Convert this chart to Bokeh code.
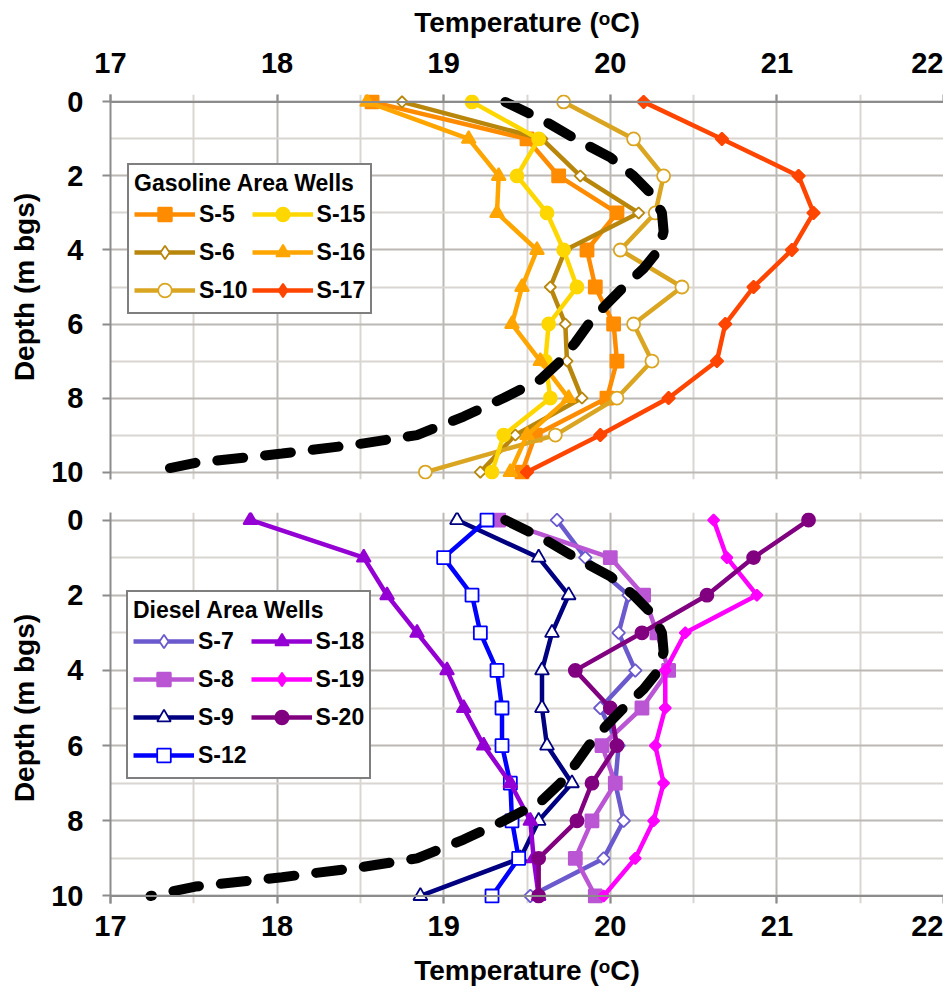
from math import pi
from bokeh.plotting import figure
from bokeh.models import Range1d, FixedTicker, Legend, LegendItem, Span, BoxAnnotation
from bokeh.layouts import column
from bokeh.embed import file_html
from bokeh.resources import INLINE

NAN = float("nan")

# ---------------- data ----------------
DEPTH = [0, 1, 2, 3, 4, 5, 6, 7, 8, 9, 10]

# Gasoline area wells (temperature, deg C)
S5 = [18.57, 19.50, 19.69, 20.04, 19.86, 19.91, 20.02, 20.04, 19.98, 19.55, 19.47]
S6 = [18.75, 19.59, 19.82, 20.17, 19.73, 19.64, 19.73, 19.74, 19.83, 19.43, 19.22]
S10 = [19.72, 20.14, 20.32, 20.27, 20.06, 20.43, 20.14, 20.25, 20.04, 19.67, 18.89]
S15 = [19.17, 19.57, 19.44, 19.62, 19.72, 19.80, 19.63, 19.61, 19.64, 19.36, 19.29]
S16 = [18.54, 19.15, 19.33, 19.32, 19.56, 19.47, 19.41, 19.58, 19.75, 19.50, 19.40]
S17 = [20.20, 20.67, 21.13, 21.22, 21.09, 20.86, 20.69, 20.64, 20.35, 19.94, 19.50]

# Diesel area wells
S7 = [19.68, 19.85, 20.11, 20.05, 20.15, 19.94, 20.05, 20.03, 20.08, 19.96, 19.52]
S8 = [19.33, 20.00, 20.20, 20.28, 20.35, 20.19, 19.95, 20.03, 19.89, 19.79, 19.91]
S9 = [19.08, 19.57, 19.75, 19.65, 19.59, 19.59, 19.62, 19.77, 19.57, 19.46, 18.86]
S12 = [19.26, 19.00, 19.17, 19.22, 19.32, 19.35, 19.35, 19.40, 19.41, 19.45, 19.29]
S18 = [17.84, 18.52, 18.66, 18.84, 19.02, 19.12, 19.24, 19.40, 19.52, 19.54, 19.57]
S19 = [20.62, 20.70, 20.88, 20.45, 20.33, 20.33, 20.27, 20.32, 20.26, 20.15, 19.96]
S20 = [21.19, 20.86, 20.58, 20.19, 19.79, 20.00, 20.04, 19.89, 19.80, 19.57, 19.57]

# Background (dashed) temperature profile
MODEL_DEPTH = [0, 0.5, 1, 1.5, 2, 2.5, 3, 3.5, 4, 4.5, 5, 5.5, 6, 6.5, 7, 7.5, 8,
               8.5, 9, 9.25, 9.5, 9.75, 10]
MODEL_TEMP = [19.37, 19.60, 19.79, 20.00, 20.14, 20.25, 20.31, 20.32, 20.29, 20.20,
              20.08, 19.97, 19.87, 19.79, 19.70, 19.58, 19.36, 19.12, 18.84, 18.48,
              18.03, 17.51, 17.24]

X_TICKS = [17, 18, 19, 20, 21, 22]
X_MINOR = [17.5, 18.5, 19.5, 20.5, 21.5]
Y_TICKS = [0, 2, 4, 6, 8, 10]
Y_MINOR = [1, 3, 5, 7, 9]

X_TITLE = "Temperature (\u1d52C)"
Y_TITLE = "Depth (m bgs)"
GAS_TITLE = "Gasoline Area Wells"
DIESEL_TITLE = "Diesel Area Wells"

FONT = "Liberation Sans"
AXIS_GRAY = "#8c8c8c"
MAJOR_GRID = "#bcb8b4"
MINOR_GRID = "#d9d6d2"
TICK_SIZE = "29px"


def make_fig(height, top, bottom, side):
    p = figure(width=943, height=height, x_range=Range1d(17, 22),
               y_range=Range1d(10.2, -0.2), x_axis_location=side,
               output_backend="svg", toolbar_location=None,
               min_border_left=110, min_border_right=0,
               min_border_top=top, min_border_bottom=bottom)
    p.outline_line_color = None
    p.background_fill_color = "white"
    # grids
    p.xgrid.ticker = FixedTicker(ticks=X_TICKS, minor_ticks=X_MINOR)
    p.ygrid.ticker = FixedTicker(ticks=Y_TICKS, minor_ticks=Y_MINOR)
    for g in (p.xgrid, p.ygrid):
        g.grid_line_color = MAJOR_GRID
        g.grid_line_width = 2
        g.minor_grid_line_color = MINOR_GRID
        g.minor_grid_line_width = 2
    # axes
    p.xaxis.ticker = FixedTicker(ticks=X_TICKS)
    p.yaxis.ticker = FixedTicker(ticks=Y_TICKS)
    for ax in (p.xaxis[0], p.yaxis[0]):
        ax.major_label_text_font = FONT
        ax.major_label_text_font_size = TICK_SIZE
        ax.major_label_text_font_style = "bold"
        ax.major_label_text_color = "black"
        ax.axis_label_text_font = FONT
        ax.axis_label_text_font_size = "28px"
        ax.axis_label_text_font_style = "bold"
        ax.axis_label_text_color = "black"
        ax.major_tick_line_color = AXIS_GRAY
        ax.major_tick_line_width = 2
        ax.minor_tick_line_color = None
    xa = p.xaxis[0]
    xa.axis_label = X_TITLE
    xa.axis_line_color = None
    xa.major_tick_in = 7
    xa.major_tick_out = 0
    ya = p.yaxis[0]
    ya.axis_label = Y_TITLE
    ya.axis_line_color = AXIS_GRAY
    ya.axis_line_width = 2
    ya.major_tick_in = 0
    ya.major_tick_out = 8
    ya.major_label_standoff = 19
    ya.axis_label_standoff = 8
    return p


def add_series(p, temps, color, marker, size, fill, angle=0.0, legend_marker=None):
    r1 = p.line(temps, DEPTH, line_color=color, line_width=4.5)
    r2 = p.scatter(temps, DEPTH, marker=marker, size=size, angle=angle,
                   line_color=color, fill_color=fill, line_width=1.8)
    if legend_marker is None:
        return [r1, r2]
    r3 = p.scatter([NAN], [NAN], marker=legend_marker, size=size,
                   line_color=color, fill_color=fill, line_width=1.8)
    return [r1, r3]


def add_model(p):
    p.line(MODEL_TEMP, MODEL_DEPTH, line_color="black", line_width=10,
           line_dash="26 22", line_cap="round")


def make_legend(items, title, loc):
    return Legend(items=items, location=loc, ncols=2, title=title,
                  title_text_font=FONT, title_text_font_size="23px",
                  title_text_font_style="bold", title_text_color="black",
                  title_standoff=0,
                  label_text_font=FONT, label_text_font_size="23px",
                  label_text_font_style="bold", label_text_color="black",
                  glyph_width=61, glyph_height=34, label_height=34,
                  label_standoff=4, spacing=4, padding=5, margin=0,
                  border_line_color="black", border_line_width=2.5,
                  background_fill_color="white", background_fill_alpha=1.0)


def underline(left, right, y):
    return BoxAnnotation(left=left, right=right, bottom=y - 1, top=y + 1,
                         left_units="screen", right_units="screen",
                         top_units="screen", bottom_units="screen",
                         fill_color="black", fill_alpha=1.0, line_color=None,
                         level="overlay")


# ---------------- top panel (gasoline) ----------------
top = make_fig(500, 94, 21, "above")
top.xaxis[0].major_label_standoff = 22
top.xaxis[0].axis_label_standoff = 12
top.add_layout(Span(location=0, dimension="width", line_color=AXIS_GRAY, line_width=2))
g5 = add_series(top, S5, "#FF8C00", "square", 13, "#FF8C00")
g6 = add_series(top, S6, "#B8860B", "square", 8, "white", pi / 4, "diamond")
g10 = add_series(top, S10, "#DAA520", "circle", 13, "white")
g15 = add_series(top, S15, "#FFD700", "circle", 13, "#FFD700")
g16 = add_series(top, S16, "#FFA500", "triangle", 14, "#FFA500")
g17 = add_series(top, S17, "#FF4500", "square", 9, "#FF4500", pi / 4, "diamond")
add_model(top)
top_legend = make_legend([
    LegendItem(label="S-5", renderers=g5),
    LegendItem(label="S-6", renderers=g6),
    LegendItem(label="S-10", renderers=g10),
    LegendItem(label="S-15", renderers=g15),
    LegendItem(label="S-16", renderers=g16),
    LegendItem(label="S-17", renderers=g17),
], GAS_TITLE, (17, 165))
top.add_layout(top_legend)
top.add_layout(underline(20, 245, 286))

# ---------------- bottom panel (diesel) ----------------
bot = make_fig(493, 12, 90, "below")
bot.xaxis[0].major_label_standoff = 12
bot.xaxis[0].axis_label_standoff = 16
bot.add_layout(Span(location=10, dimension="width", line_color=AXIS_GRAY, line_width=2))
d7 = add_series(bot, S7, "#6A5ACD", "square", 9, "white", pi / 4, "diamond")
d8 = add_series(bot, S8, "#BA55D3", "square", 13, "#BA55D3")
d9 = add_series(bot, S9, "#000080", "triangle", 14, "white")
d12 = add_series(bot, S12, "#0000FF", "square", 13, "white")
d18 = add_series(bot, S18, "#9400D3", "triangle", 14, "#9400D3")
d19 = add_series(bot, S19, "#FF00FF", "square", 8, "#FF00FF", pi / 4, "diamond")
d20 = add_series(bot, S20, "#800080", "circle", 13, "#800080")
add_model(bot)
bot_legend = make_legend([
    LegendItem(label="S-7", renderers=d7),
    LegendItem(label="S-8", renderers=d8),
    LegendItem(label="S-9", renderers=d9),
    LegendItem(label="S-12", renderers=d12),
    LegendItem(label="S-18", renderers=d18),
    LegendItem(label="S-19", renderers=d19),
    LegendItem(label="S-20", renderers=d20),
], DIESEL_TITLE, (16, 124))
bot.add_layout(bot_legend)
bot.add_layout(underline(19, 213, 286))

layout = column(top, bot, spacing=0)
open("out.html", "w").write(file_html(layout, INLINE))
